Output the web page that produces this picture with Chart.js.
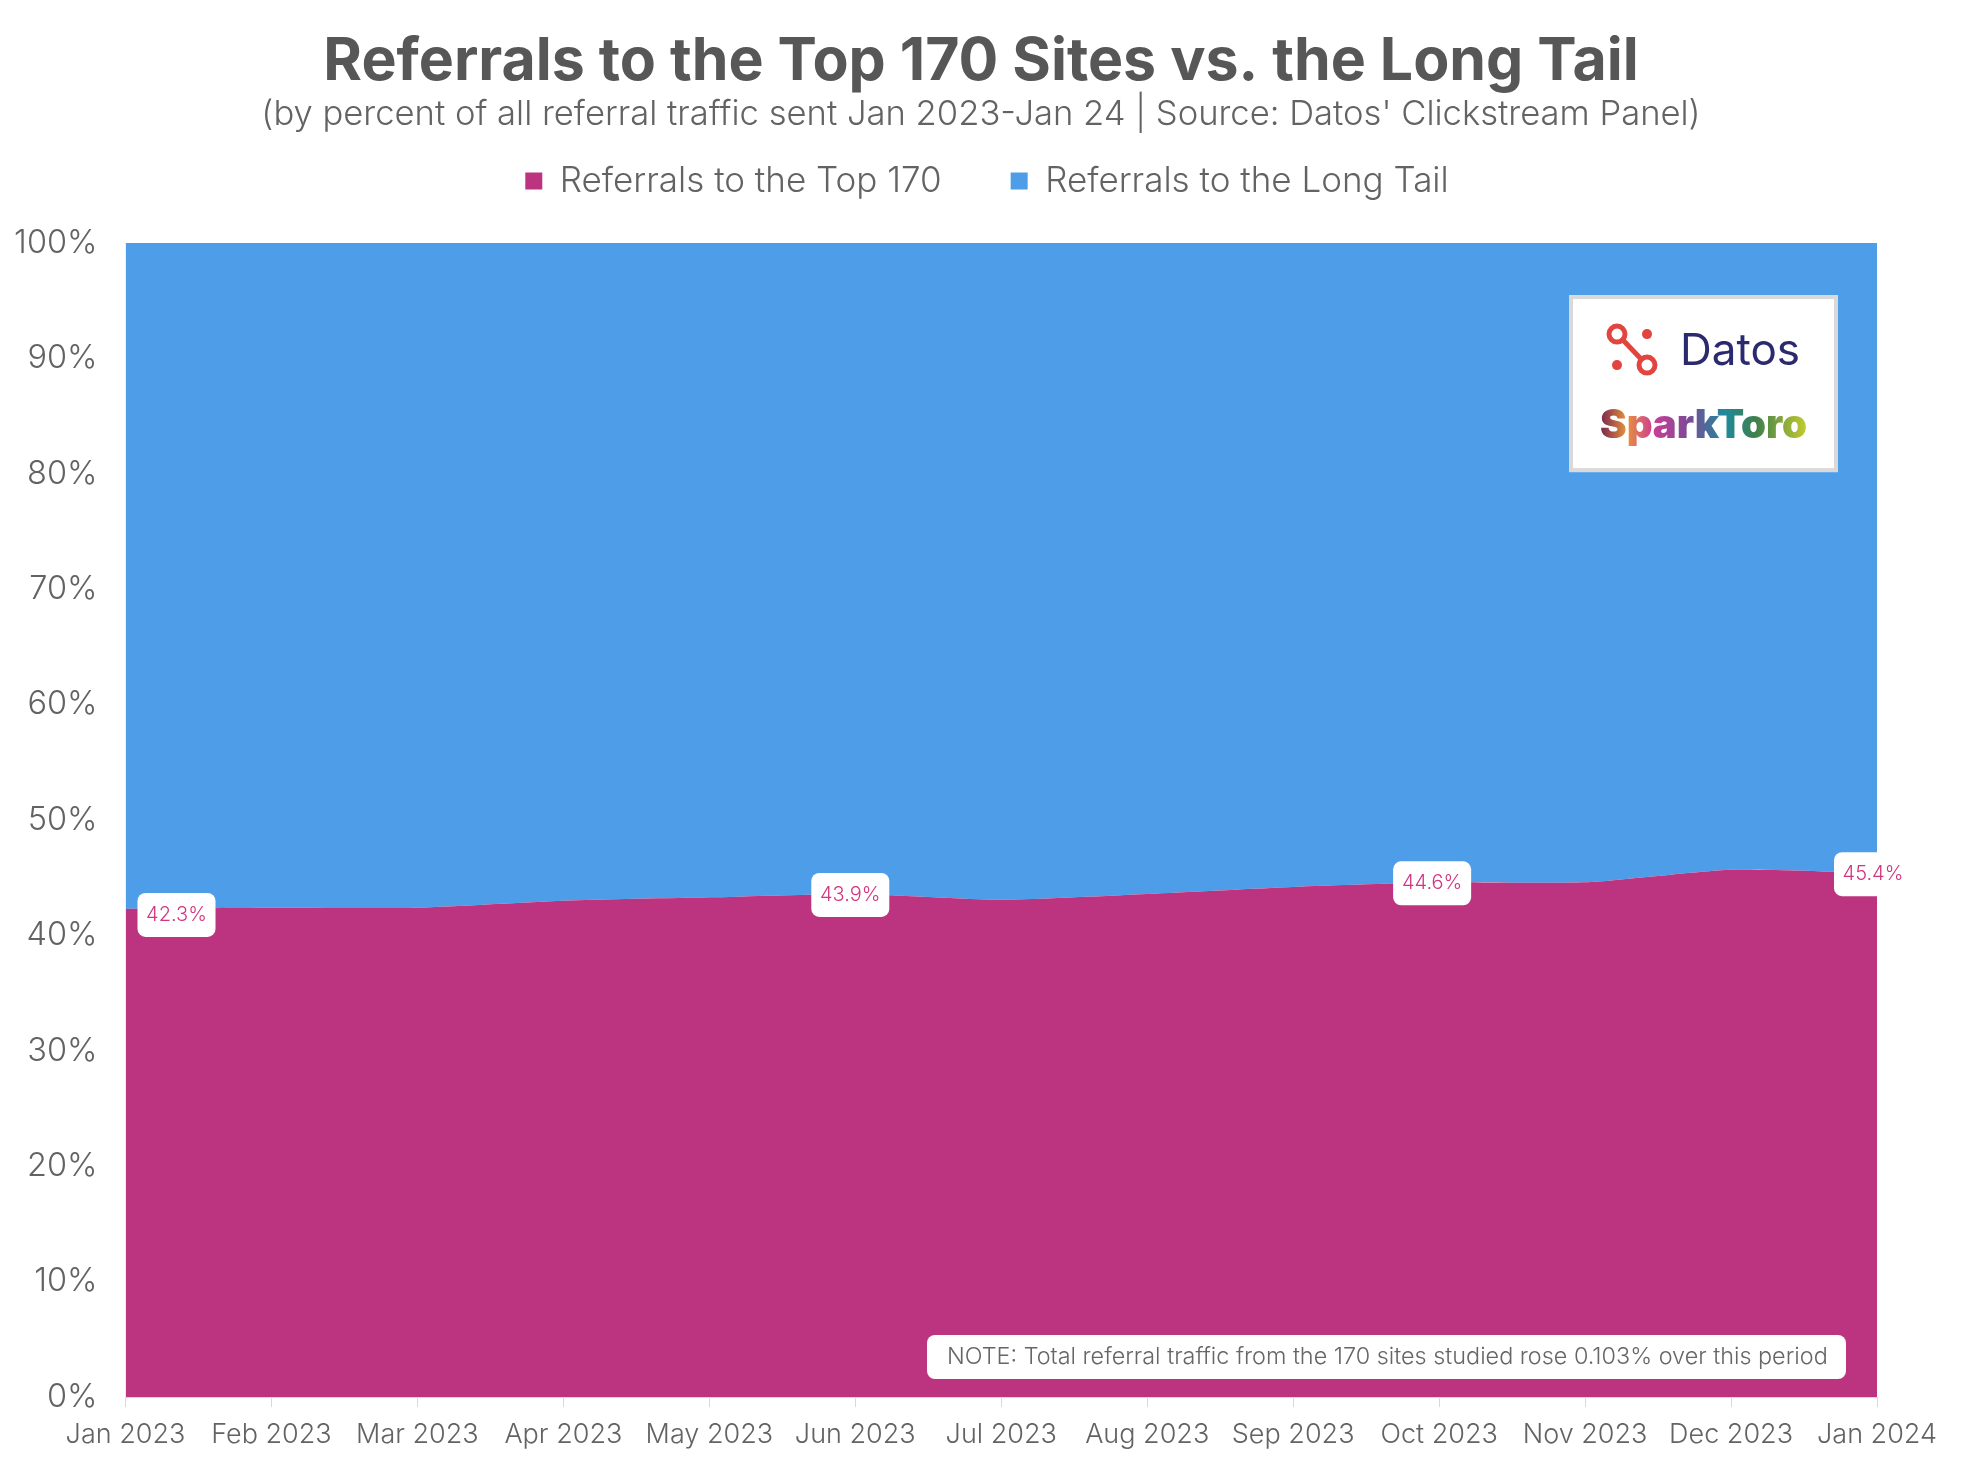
<!DOCTYPE html>
<html>
<head>
<meta charset="utf-8">
<title>Referrals to the Top 170 Sites vs. the Long Tail</title>
<script src="https://cdn.jsdelivr.net/npm/chart.js@4"></script>
<style>
  html, body { margin: 0; padding: 0; background: #fff; }
  canvas { display: block; }
</style>
</head>
<body>
<canvas id="chart" width="1969" height="1463"></canvas>
<script>
const months = ["Jan 2023", "Feb 2023", "Mar 2023", "Apr 2023", "May 2023", "Jun 2023", "Jul 2023",
  "Aug 2023", "Sep 2023", "Oct 2023", "Nov 2023", "Dec 2023", "Jan 2024"];
const top170 = [42.3, 42.4, 42.4, 43.0, 43.3, 43.6, 43.1, 43.6, 44.2, 44.6, 44.6, 45.7, 45.4];
const longTail = [57.7, 57.6, 57.6, 57.0, 56.7, 56.4, 56.9, 56.4, 55.8, 55.4, 55.4, 54.3, 54.6];
const calloutMonths = ["Jan 2023", "Jun 2023", "Oct 2023", "Jan 2024"];
const calloutTexts = ["42.3%", "43.9%", "44.6%", "45.4%"];
const noteText = "NOTE: Total referral traffic from the 170 sites studied rose 0.103% over this period";

const FONT = "Inter, 'Open Sans', sans-serif";
const GREY = "#636363";
const PINK = "#bc3480";
const BLUE = "#4e9de8";

function roundBox(ctx, x, y, w, h, r) {
  ctx.beginPath();
  ctx.roundRect(x, y, w, h, r);
  ctx.fillStyle = "#fff";
  ctx.fill();
}

// header blocks are centred on the page, not on the narrower plot
const headerTweak = {
  id: "headerTweak",
  beforeInit(chart) {
    const fit = chart.legend.fit;
    chart.legend.fit = function () {
      fit.call(this);
      this.height = 111.5;
    };
  },
  afterLayout(chart) {
    chart.boxes.forEach(function (box) {
      if (box.options.position === "top") {
        box.left = 0;
        box.right = 1962;
      }
    });
    chart.legend.right = 1974;
    chart.legend.top -= 37;
  },
};

const callouts = {
  id: "callouts",
  afterDatasetsDraw(chart) {
    const { ctx, scales } = chart;
    const shiftsX = [51, -5, -7, -4];
    const shiftsY = [5, 0, 0, 0];
    ctx.save();
    ctx.font = "300 20px " + FONT;
    ctx.textAlign = "center";
    ctx.textBaseline = "middle";
    calloutMonths.forEach(function (m, i) {
      const idx = months.indexOf(m);
      const cx = scales.x.getPixelForValue(idx) + shiftsX[i];
      const cy = scales.y.getPixelForValue(top170[idx]) + 1 + shiftsY[i];
      roundBox(ctx, cx - 39, cy - 22, 78, 44, 8);
      ctx.fillStyle = "#d2357f";
      ctx.fillText(calloutTexts[i], cx, cy);
    });
    ctx.restore();
  },
};

const noteBox = {
  id: "noteBox",
  afterDatasetsDraw(chart) {
    const { ctx, chartArea } = chart;
    const right = chartArea.right - 31;
    const bottom = chartArea.bottom - 18;
    ctx.save();
    roundBox(ctx, right - 919, bottom - 44, 919, 44, 8);
    ctx.font = "300 23.4px " + FONT;
    ctx.fillStyle = "#666";
    ctx.textAlign = "left";
    ctx.textBaseline = "middle";
    ctx.fillText(noteText, right - 899, bottom - 22);
    ctx.restore();
  },
};

const logoBox = {
  id: "logoBox",
  afterDatasetsDraw(chart) {
    const { ctx, chartArea } = chart;
    const x = chartArea.right - 308;
    const y = chartArea.top + 52;
    ctx.save();
    ctx.fillStyle = "#fff";
    ctx.strokeStyle = "#d9d9d9";
    ctx.lineWidth = 4;
    ctx.fillRect(x, y, 269, 177);
    ctx.strokeRect(x + 2, y + 2, 265, 173);

    // datos mark
    ctx.strokeStyle = ctx.fillStyle = "#e2453f";
    ctx.lineWidth = 5;
    ctx.beginPath();
    ctx.moveTo(x + 52, y + 43);
    ctx.lineTo(x + 74, y + 66);
    ctx.stroke();
    [[48, 39], [78, 70]].forEach(function (c) {
      ctx.beginPath();
      ctx.arc(x + c[0], y + c[1], 8, 0, Math.PI * 2);
      ctx.stroke();
    });
    [[78, 39], [48, 70]].forEach(function (c) {
      ctx.beginPath();
      ctx.arc(x + c[0], y + c[1], 5, 0, Math.PI * 2);
      ctx.fill();
    });

    ctx.textAlign = "left";
    ctx.textBaseline = "alphabetic";
    ctx.font = "400 44px " + FONT;
    ctx.fillStyle = "#2b2a6e";
    ctx.fillText("Datos", x + 111, y + 70);

    const grad = ctx.createLinearGradient(x + 33, 0, x + 238, 0);
    grad.addColorStop(0, "#7e2b4f");
    grad.addColorStop(0.12, "#e8923a");
    grad.addColorStop(0.25, "#cc3d96");
    grad.addColorStop(0.42, "#7d4a98");
    grad.addColorStop(0.6, "#1f8a9b");
    grad.addColorStop(0.75, "#3f7f4c");
    grad.addColorStop(1, "#c4cc2f");
    ctx.font = "900 40px " + FONT;
    ctx.fillStyle = grad;
    ctx.fillText("SparkToro", x + 31, y + 143);
    ctx.restore();
  },
};

new Chart(document.getElementById("chart"), {
  type: "line",
  data: {
    labels: months,
    datasets: [
      { label: "Referrals to the Top 170", data: top170, backgroundColor: PINK, borderColor: PINK, fill: "origin" },
      { label: "Referrals to the Long Tail", data: longTail, backgroundColor: BLUE, borderColor: BLUE, fill: "-1" },
    ],
  },
  plugins: [headerTweak, callouts, noteBox, logoBox],
  options: {
    responsive: false,
    animation: false,
    devicePixelRatio: 1,
    layout: { padding: { top: 0, right: 92, bottom: 0, left: 0 } },
    elements: { point: { radius: 0 }, line: { borderWidth: 0, tension: 0.2 } },
    plugins: {
      tooltip: { enabled: false },
      title: {
        display: true,
        text: "Referrals to the Top 170 Sites vs. the Long Tail",
        color: "#575757",
        font: { family: FONT, size: 59, weight: "700", lineHeight: 1 },
        padding: { top: 32.5, bottom: 0 },
      },
      subtitle: {
        display: true,
        text: "(by percent of all referral traffic sent Jan 2023-Jan 24 | Source: Datos' Clickstream Panel)",
        color: GREY,
        font: { family: FONT, size: 34.6, weight: "300", lineHeight: 1 },
        padding: { top: 5.5, bottom: 0 },
      },
      legend: {
        labels: {
          color: GREY,
          font: { family: FONT, size: 35, weight: "300", lineHeight: 1 },
          boxWidth: 17,
          boxHeight: 17,
          padding: 69,
        },
      },
    },
    scales: {
      x: {
        grid: { drawOnChartArea: false, color: "#d9d9d9", tickLength: 10 },
        border: { color: "#d9d9d9" },
        ticks: {
          color: GREY,
          font: { family: FONT, size: 27, weight: "300" },
          autoSkip: false,
          maxRotation: 0,
          padding: 12,
        },
        afterFit(scale) { scale.height = 66; },
      },
      y: {
        stacked: true,
        min: 0,
        max: 100,
        grid: { display: false },
        border: { display: false },
        ticks: {
          color: GREY,
          stepSize: 10,
          padding: 20,
          font: { family: FONT, size: 32.5, weight: "300" },
          callback: function (v) { return v + "%"; },
        },
        afterFit(scale) { scale.width = 125.5; },
      },
    },
  },
});
</script>
</body>
</html>
